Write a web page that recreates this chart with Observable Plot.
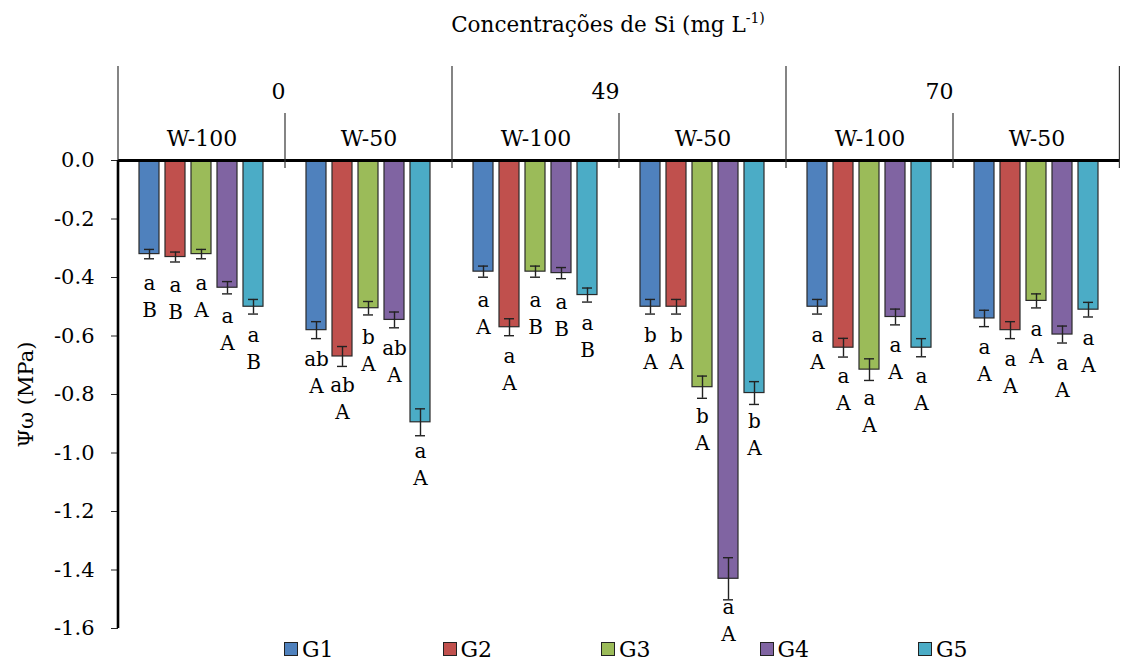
<!DOCTYPE html>
<html>
<head>
<meta charset="utf-8">
<script src="https://cdn.jsdelivr.net/npm/d3@7"></script>
<script src="https://cdn.jsdelivr.net/npm/@observablehq/plot@0.6"></script>
<style>
  body { margin: 0; background: #fff; font-family: "DejaVu Serif", serif; }
  #title { height: 50px; line-height: 50px; font-size: 21.5px; text-align: center; padding-left: 93px; width: 1030px; color: #000; }
  #title sup { font-size: 14px; line-height: 0; vertical-align: 9px; }
  #chart svg { display: block; overflow: visible; }
  #legend { position: relative; height: 40px; width: 1123px; }
  .item { position: absolute; top: 4px; height: 28px; font-size: 22px; line-height: 28px; color: #000; }
  .sw { position: absolute; left: 0; top: 6px; width: 12px; height: 12px; border: 1.5px solid #222; }
  .lab { position: absolute; left: 18px; top: 0; }
</style>
</head>
<body>
<div id="title">Concentrações de Si (mg L<sup>-1)</sup></div>
<div id="chart"></div>
<div id="legend"></div>
<script>
// ---- data ----
const siLevels = ["0", "49", "70"];
const waterLevels = ["W-100", "W-50"];
const groups = ["G1", "G2", "G3", "G4", "G5"];
const colors = ["#4F81BD", "#C0504D", "#9BBB59", "#8064A2", "#4BACC6"];
const yTicks = [0, -0.2, -0.4, -0.6, -0.8, -1.0, -1.2, -1.4, -1.6];

// one row per (Si, water) subgroup, columns G1..G5
const means = [
  [-0.32, -0.33, -0.32, -0.435, -0.50],   // 0 / W-100
  [-0.58, -0.67, -0.505, -0.545, -0.895], // 0 / W-50
  [-0.38, -0.57, -0.38, -0.385, -0.46],   // 49 / W-100
  [-0.50, -0.50, -0.775, -1.43, -0.795],  // 49 / W-50
  [-0.50, -0.64, -0.715, -0.535, -0.64],  // 70 / W-100
  [-0.54, -0.58, -0.48, -0.595, -0.51]    // 70 / W-50
];
const errors = [
  [0.016, 0.017, 0.016, 0.021, 0.025],
  [0.029, 0.034, 0.023, 0.027, 0.046],
  [0.019, 0.029, 0.019, 0.019, 0.024],
  [0.025, 0.025, 0.038, 0.072, 0.039],
  [0.025, 0.032, 0.037, 0.027, 0.031],
  [0.028, 0.029, 0.024, 0.029, 0.025]
];
const lowerLetters = [
  ["a", "a", "a", "a", "a"],
  ["ab", "ab", "b", "ab", "a"],
  ["a", "a", "a", "a", "a"],
  ["b", "b", "b", "a", "b"],
  ["a", "a", "a", "a", "a"],
  ["a", "a", "a", "a", "a"]
];
const upperLetters = [
  ["B", "B", "A", "A", "B"],
  ["A", "A", "A", "A", "A"],
  ["A", "A", "B", "B", "B"],
  ["A", "A", "A", "A", "A"],
  ["A", "A", "A", "A", "A"],
  ["A", "A", "A", "A", "A"]
];

// ---- build table ----
const keys = siLevels.flatMap(s => waterLevels.map(w => s + "|" + w));
const subs = keys.map(k => ({ key: k, si: k.split("|")[0], water: k.split("|")[1] }));
const rows = [];
keys.forEach((k, i) => groups.forEach((g, j) => rows.push({
  key: k, g, v: means[i][j], e: errors[i][j], lo: lowerLetters[i][j], up: upperLetters[i][j]
})));

const font = "'DejaVu Serif', serif";
const chart = Plot.plot({
  width: 1123,
  height: 582,
  marginLeft: 117,
  marginRight: 3,
  marginTop: 110,
  marginBottom: 4,
  style: { fontFamily: font, fontSize: "21px", color: "#000", background: "#fff", overflow: "visible" },
  fx: { domain: keys, padding: 0, axis: null, label: null },
  x: { domain: groups, paddingInner: 0.22, paddingOuter: 0.72, axis: null },
  y: { domain: [-1.6, 0], axis: null },
  color: { domain: groups, range: colors },
  marks: [
    Plot.axisY({
      ticks: yTicks, tickFormat: d => d.toFixed(1), tickSize: 7, tickPadding: 17,
      fontSize: 21, stroke: "#222",
      label: "Ψω (MPa)", labelAnchor: "center", labelOffset: 100, labelArrow: "none"
    }),
    Plot.barY(rows, { fx: "key", x: "g", y: "v", fill: "g", stroke: "#2a2a2a", strokeWidth: 1.2 }),
    Plot.ruleX(rows, { fx: "key", x: "g", y1: d => d.v - d.e, y2: d => d.v + d.e, stroke: "#222", strokeWidth: 1.4 }),
    Plot.tickY(rows, { fx: "key", x: "g", y: d => d.v - d.e, inset: 5, stroke: "#222", strokeWidth: 1.4 }),
    Plot.tickY(rows, { fx: "key", x: "g", y: d => d.v + d.e, inset: 5, stroke: "#222", strokeWidth: 1.4 }),
    Plot.text(rows, { fx: "key", x: "g", y: "v", text: "lo", dy: 29, fontSize: 20, fill: "#000" }),
    Plot.text(rows, { fx: "key", x: "g", y: "v", text: "up", dy: 56, fontSize: 20, fill: "#000" }),
    Plot.ruleY([0], { stroke: "#000", strokeWidth: 3 }),
    Plot.text(subs, { fx: "key", text: "water", frameAnchor: "top", dy: -30, fontSize: 22, fill: "#000" }),
    Plot.text(subs.filter(d => d.water === "W-100"), { fx: "key", text: "si", frameAnchor: "top-right", dy: -77, fontSize: 22, fill: "#000" })
  ]
});

// header separators and axis line, placed with the plot's own scales
(function () {
  let left, bw;
  const fxs = chart.scale && chart.scale("fx");
  if (fxs && fxs.apply) { left = k => fxs.apply(k); bw = fxs.bandwidth; }
  else { bw = (1123 - 117 - 3) / keys.length; left = k => 117 + keys.indexOf(k) * bw; }
  const ys = chart.scale("y");
  const y0 = ys.apply(0), yMin = ys.apply(-1.6);
  const g = d3.select(chart).append("g").attr("stroke", "#333").attr("stroke-width", 1.2);
  const majors = keys.filter(k => k.endsWith("W-100")).map(left).concat([left(keys[keys.length - 1]) + bw - 0.6]);
  const minors = keys.filter(k => k.endsWith("W-50")).map(left);
  majors.forEach(x => g.append("line").attr("x1", x).attr("x2", x).attr("y1", y0 - 94).attr("y2", y0 + 8));
  minors.forEach(x => g.append("line").attr("x1", x).attr("x2", x).attr("y1", y0 - 47).attr("y2", y0 + 8));
  g.append("line").attr("x1", left(keys[0])).attr("x2", left(keys[0]))
    .attr("y1", y0).attr("y2", yMin).attr("stroke", "#000").attr("stroke-width", 2.6);
})();

document.getElementById("chart").appendChild(chart);

// legend
const legend = document.getElementById("legend");
groups.forEach((g, i) => {
  const it = document.createElement("div");
  it.className = "item";
  it.style.left = (284 + i * 158.5) + "px";
  it.innerHTML = `<span class="sw" style="background:${colors[i]}"></span><span class="lab">${g}</span>`;
  legend.appendChild(it);
});
</script>
</body>
</html>
